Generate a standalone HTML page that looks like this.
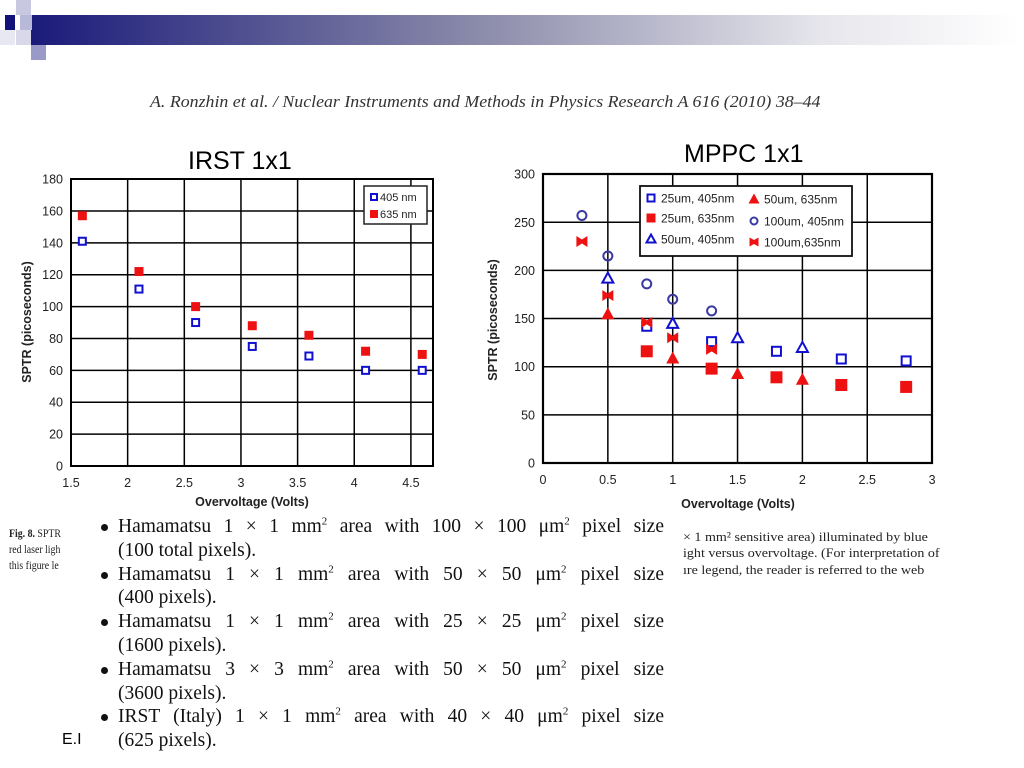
<!DOCTYPE html>
<html><head><meta charset="utf-8"><style>
body{margin:0;width:1024px;height:768px;background:#fff;position:relative;overflow:hidden;font-family:"Liberation Sans",sans-serif}
.a{position:absolute;white-space:nowrap}
.cap{font-family:"Liberation Serif",serif;font-size:12px;color:#222;transform:scaleX(0.82);transform-origin:left}
.bl{position:absolute;left:104px;width:560px;font-family:"Liberation Serif",serif;font-size:19.5px;color:#111;line-height:23.8px}
.bl div{text-align:justify;text-align-last:justify;padding-left:14px;position:relative}
.bl div.l2{text-align-last:left}
.bl div.b::before{content:"";position:absolute;left:-3px;top:9px;width:7px;height:7px;border-radius:50%;background:#111}
sup{font-size:11px;line-height:0}
</style></head><body>
<svg width="1024" height="768" style="position:absolute;left:0;top:0">
<defs><linearGradient id="g" x1="0" x2="1"><stop offset="0" stop-color="#1a1a7a"/><stop offset="0.45" stop-color="#8a8aaa"/><stop offset="0.8" stop-color="#e6e6ec"/><stop offset="1" stop-color="#fff"/></linearGradient></defs>
<rect x="30" y="15" width="990" height="30" fill="url(#g)"/>
<rect x="5" y="15" width="10" height="15" fill="#12127a"/>
<rect x="16" y="0" width="15" height="15" fill="#c8c8e0"/>
<rect x="20" y="15" width="12" height="15" fill="#b8b8d8"/>
<rect x="16" y="30" width="15" height="15" fill="#d8d8ea"/>
<rect x="31" y="45" width="15" height="15" fill="#9a9ac8"/>
<rect x="0" y="30" width="15" height="15" fill="#e8e8f2"/>
<g id="L"></g><g id="R"></g>
</svg>
<div class="a" style="left:150px;top:92px;font-family:'Liberation Serif',serif;font-style:italic;font-size:17px;color:#333;transform:scaleX(1.05);transform-origin:left">A. Ronzhin et al. / Nuclear Instruments and Methods in Physics Research A 616 (2010) 38–44</div>
<div class="a" style="left:188px;top:147px;font-size:25px">IRST 1x1</div>
<div class="a" style="left:684px;top:140px;font-size:25px">MPPC 1x1</div>
<div class="a cap" style="left:9px;top:526px"><b>Fig. 8.</b> SPTR</div>
<div class="a cap" style="left:9px;top:542px">red laser ligh</div>
<div class="a cap" style="left:9px;top:558px">this figure le</div>
<div class="a cap" style="left:683px;top:529px;font-size:13px;transform:scaleX(1.08)">× 1 mm² sensitive area) illuminated by blue</div>
<div class="a cap" style="left:683px;top:545px;font-size:13px;transform:scaleX(1.08)">ight versus overvoltage. (For interpretation of</div>
<div class="a cap" style="left:683px;top:562px;font-size:13px;transform:scaleX(1.08)">ıre legend, the reader is referred to the web</div>
<div class="a" style="left:62px;top:731px;font-size:16px">E.I</div>
<div class="bl" style="top:515px">
<div class="b">Hamamatsu 1 × 1 mm<sup>2</sup> area with 100 × 100 μm<sup>2</sup> pixel size</div><div class="l2">(100 total pixels).</div>
<div class="b">Hamamatsu 1 × 1 mm<sup>2</sup> area with 50 × 50 μm<sup>2</sup> pixel size</div><div class="l2">(400 pixels).</div>
<div class="b">Hamamatsu 1 × 1 mm<sup>2</sup> area with 25 × 25 μm<sup>2</sup> pixel size</div><div class="l2">(1600 pixels).</div>
<div class="b">Hamamatsu 3 × 3 mm<sup>2</sup> area with 50 × 50 μm<sup>2</sup> pixel size</div><div class="l2">(3600 pixels).</div>
<div class="b">IRST (Italy) 1 × 1 mm<sup>2</sup> area with 40 × 40 μm<sup>2</sup> pixel size</div><div class="l2">(625 pixels).</div>
</div>
<script>
const NS="http://www.w3.org/2000/svg";
function el(p,t,a,txt){const e=document.createElementNS(NS,t);for(const k in a)e.setAttribute(k,a[k]);if(txt!=null)e.textContent=txt;p.appendChild(e);return e;}
const B="#1010d0",Rd="#ee1111";
function mk(g,type,x,y,s){
 const h=s/2;
 if(type=="os")el(g,"rect",{x:x-h+1,y:y-h+1,width:s-2,height:s-2,fill:"#fff",stroke:B,"stroke-width":2});
 if(type=="fs")el(g,"rect",{x:x-h,y:y-h,width:s,height:s,fill:Rd});
 if(type=="ot")el(g,"polygon",{points:`${x},${y-h} ${x-h},${y+h-1} ${x+h},${y+h-1}`,fill:"#fff",stroke:B,"stroke-width":2});
 if(type=="ft")el(g,"polygon",{points:`${x},${y-h-1} ${x-h-1},${y+h} ${x+h+1},${y+h}`,fill:Rd});
 if(type=="oc")el(g,"circle",{cx:x,cy:y,r:h-1,fill:"none",stroke:"#3a3aa0","stroke-width":2});
 if(type=="bt")el(g,"polygon",{points:`${x-h},${y-h} ${x},${y-2} ${x+h},${y-h} ${x+h},${y+h} ${x},${y+2} ${x-h},${y+h}`,fill:Rd});
}
(function(){
 const g=document.getElementById("L");
 const X=v=>71+(v-1.5)*113.3, Y=s=>466-s*1.594;
 for(let s=20;s<=160;s+=20)el(g,"line",{x1:71,x2:433,y1:Y(s),y2:Y(s),stroke:"#000","stroke-width":1.5});
 for(let v=2;v<=4.5;v+=0.5)el(g,"line",{x1:X(v),x2:X(v),y1:179,y2:466,stroke:"#000","stroke-width":1.5});
 el(g,"rect",{x:71,y:179,width:362,height:287,fill:"none",stroke:"#000","stroke-width":2});
 for(let s=0;s<=180;s+=20)el(g,"text",{x:63,y:Y(s)+4.5,"text-anchor":"end","font-size":12.5,fill:"#222"},s);
 [1.5,2,2.5,3,3.5,4,4.5].forEach(v=>el(g,"text",{x:X(v),y:487,"text-anchor":"middle","font-size":12.5,fill:"#222"},v));
 el(g,"text",{x:252,y:506,"text-anchor":"middle","font-size":12.5,"font-weight":"bold",fill:"#222"},"Overvoltage (Volts)");
 el(g,"text",{x:0,y:0,"text-anchor":"middle","font-size":12.5,"font-weight":"bold",fill:"#222",transform:"translate(31,322) rotate(-90)"},"SPTR (picoseconds)");
 const b=[[1.6,141],[2.1,111],[2.6,90],[3.1,75],[3.6,69],[4.1,60],[4.6,60]],r=[[1.6,157],[2.1,122],[2.6,100],[3.1,88],[3.6,82],[4.1,72],[4.6,70]];
 r.forEach(p=>mk(g,"fs",X(p[0]),Y(p[1]),9));b.forEach(p=>mk(g,"os",X(p[0]),Y(p[1]),9));
 el(g,"rect",{x:364,y:186,width:63,height:38,fill:"#fff",stroke:"#222","stroke-width":1.5});
 mk(g,"os",374,197,8);mk(g,"fs",374,214,8);
 el(g,"text",{x:380,y:201,"font-size":11,fill:"#222"},"405 nm");el(g,"text",{x:380,y:218,"font-size":11,fill:"#222"},"635 nm");
})();
(function(){
 const g=document.getElementById("R");
 const X=v=>543+v*129.7, Y=s=>463-s*0.963;
 for(let s=50;s<=250;s+=50)el(g,"line",{x1:543,x2:932,y1:Y(s),y2:Y(s),stroke:"#000","stroke-width":1.5});
 for(let v=0.5;v<=2.5;v+=0.5)el(g,"line",{x1:X(v),x2:X(v),y1:174,y2:463,stroke:"#000","stroke-width":1.5});
 el(g,"rect",{x:543,y:174,width:389,height:289,fill:"none",stroke:"#000","stroke-width":2.2});
 for(let s=0;s<=300;s+=50)el(g,"text",{x:535,y:Y(s)+4.5,"text-anchor":"end","font-size":12.5,fill:"#222"},s);
 [0,0.5,1,1.5,2,2.5,3].forEach(v=>el(g,"text",{x:X(v),y:484,"text-anchor":"middle","font-size":12.5,fill:"#222"},v));
 el(g,"text",{x:738,y:508,"text-anchor":"middle","font-size":12.5,"font-weight":"bold",fill:"#222"},"Overvoltage (Volts)");
 el(g,"text",{x:0,y:0,"text-anchor":"middle","font-size":12.5,"font-weight":"bold",fill:"#222",transform:"translate(497,320) rotate(-90)"},"SPTR (picoseconds)");
 const S={
  os:[[0.8,142],[1.3,126],[1.8,116],[2.3,108],[2.8,106]],
  fs:[[0.8,116],[1.3,98],[1.8,89],[2.3,81],[2.8,79]],
  ot:[[0.5,192],[1,145],[1.5,130],[2,120]],
  ft:[[0.5,155],[1,109],[1.5,93],[2,87]],
  oc:[[0.3,257],[0.5,215],[0.8,186],[1,170],[1.3,158]],
  bt:[[0.3,230],[0.5,174],[0.8,146],[1,130],[1.3,118]]};
 for(const k in S)S[k].forEach(p=>mk(g,k,X(p[0]),Y(p[1]),k=="fs"?12:11));
 el(g,"rect",{x:640,y:186,width:212,height:70,fill:"#fff",stroke:"#111","stroke-width":1.8});
 const L=[["os",651,198,"25um, 405nm"],["fs",651,218,"25um, 635nm"],["ot",651,239,"50um, 405nm"],["ft",754,199,"50um, 635nm"],["oc",754,221,"100um, 405nm"],["bt",754,242,"100um,635nm"]];
 L.forEach(l=>{mk(g,l[0],l[1],l[2],9);el(g,"text",{x:l[1]+10,y:l[2]+4.5,"font-size":12,fill:"#222"},l[3]);});
})();
</script>
</body></html>
